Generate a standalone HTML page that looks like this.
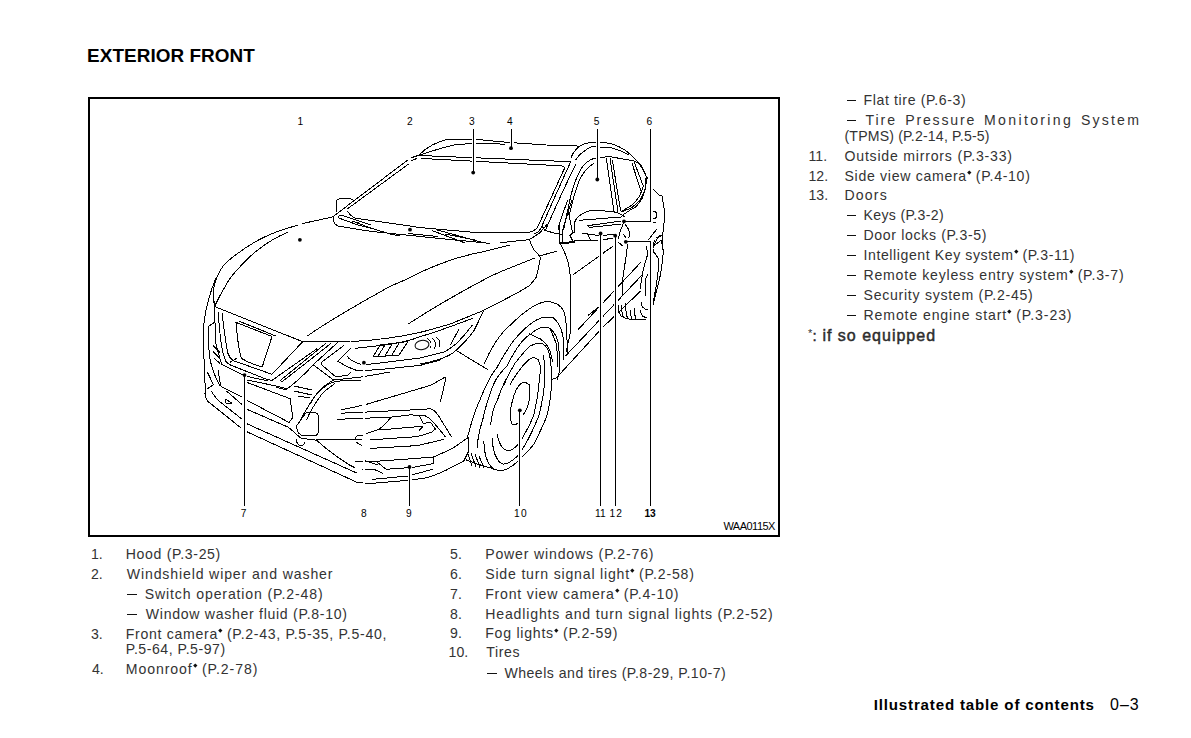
<!DOCTYPE html>
<html><head><meta charset="utf-8"><style>
html,body{margin:0;padding:0;background:#fff;}
body{width:1191px;height:738px;position:relative;overflow:hidden;font-family:"Liberation Sans",sans-serif;color:#333;}
.t{position:absolute;white-space:nowrap;line-height:1.117;}
.dash{height:1.3px;background:#111;}
.thick{-webkit-text-stroke:0.45px #222;}
.lbl{color:#000;}
.st{display:inline-block;width:2.6px;height:2.6px;background:#111;transform:rotate(45deg);vertical-align:0.5em;margin:0 0.6px 0 1.2px;}
#box{position:absolute;left:88px;top:97px;width:688px;height:436px;border:2px solid #000;}
svg{position:absolute;left:0;top:0;}
</style></head><body>
<div id="box"></div>
<svg width="1191" height="738" viewBox="0 0 1191 738" fill="none" stroke="#000" stroke-width="1" stroke-linecap="round" stroke-linejoin="round" shape-rendering="crispEdges">
<!-- ROOF -->
<path d="M418.7,155.2 C425,149 436,142 447.2,139.4 L476.4,139.4 L505.7,142.2 L546.3,145 L579.5,146.1"/>
<path d="M420,155 C432,151 442,148 448.8,146.3 L453.7,145 C470,143 490,143.5 505,144.2"/>
<path d="M419.5,155.5 L570.7,161.7"/>
<path d="M422,158.5 L561,165.8 C563.5,166.3 565,167.5 564.2,169"/>
<!-- A pillar right -->
<path d="M564.2,169 L538.2,225.9 C536.5,229.5 533.3,231.6 528,232.6 L481.3,233 L420,227.6"/>
<path d="M570.7,161.7 C566,172 552,203 541,228 C539.5,231 537.3,233 534,234"/>
<path d="M575.5,165 C569,178 556,206 545,231 L542.2,226"/>
<path d="M579.5,146.1 C575,150 572,154 571,158.3"/>
<!-- windshield bottom / cowl -->
<path d="M347.5,211.1 C350,215 353,218 357,218.5 L409.3,225.9 L420,227.6"/>
<path d="M334,217.2 C332.5,220 333.5,224 338,226 L370.3,231.3 L430,237.5 L490,243.4 M500.7,242.7 L529.4,239.6 L539.8,232.9 L546.5,225"/>
<path d="M338.6,216.2 C338.3,217.5 339,218.3 340.2,218.5 L357.5,224.8 L370.6,228.1 L390.5,234 L400,236"/>
<path d="M338.6,216.2 C339.5,215.2 341,215.2 342.4,215.6 L370.6,224.8"/>
<path d="M352.8,221.2 L370.3,227.9 M358.2,221.9 L363,227 M408,233.5 L438,236.5 M432.2,230.6 L464.4,242.7 M437.5,230 L483.2,242.7 M445,234 L475,240"/>
<path d="M545.2,230.5 L558,234.1"/>
<!-- A pillar left -->
<path d="M334.6,215.4 L407.4,160.3 M411.8,157.6 L419.2,155.1"/>
<path d="M347.8,208.6 L408.5,164.1 M411.8,160.8 L417.2,158.1"/>
<!-- cowl corner -->
<path d="M336,212 L336,203 C336,199.5 338,198.4 342,198.4 L352.8,199.1"/>
<!-- HOOD -->
<path d="M334,216.6 L302.3,223.6 M297.4,225.2 C285,229 275,232 268.2,235.3 C255,241 240,251 227.5,261.3 C221,267 217.5,274 214.5,284 C213,292 213,299 214.6,306.6"/>
<path d="M287.7,232 C275,238 268,242 260,248.3 C251,255 246,260 240.5,266.2 C234,273 229,279 226,285 C222,292 218,299 214.6,306.6"/>

<path d="M214.6,306.6 L301.2,341.1 L349.3,341.6 M352,341.5 C380,340 400,337 420,332.4 C430,330 440,327 450.5,323.9 L483.4,310.5 L516.6,293.3 C521,290.5 525,288.5 528.8,286"/>
<!-- hood creases -->
<path d="M307.2,336.1 C330,320 355,306 380,292 C390,286 400,282 405,280 C420,272 450,258 480,252.4 L509.3,245.1"/>
<path d="M408.3,323.9 C430,310 455,295 483.4,280 C490,276 498,273 504.4,270.1 L534.9,257.9"/>
<!-- fender / shut line -->
<path d="M529.4,239.6 C531,244 532,247 533.7,249.4 C536,252 538,254 540.4,257.3 C540,261 539,264 538.5,267.7 C537.5,272 537,275 536.1,277.4 C534,281 531,284 528.8,286"/>
<path d="M541,255.5 L556.8,251.2"/>
<!-- GRILLE -->
<path d="M213.4,295 L214.6,306.6 M220.1,295 L214.6,306.6"/>
<path d="M239,321.2 L275.6,335.9 M236,322.4 L272,336.5 L262.2,367 C255,365 247,362 241.5,358.4 C238,348 237,335 236,322.4"/>
<path d="M222,312.7 C224,330 226,345 228,353.5 C230,358 231,360 234.1,360.9 L268.3,373 L272,374.3 L302.4,342"/>
<path d="M218.3,312 C219,325 220,335 221.3,343.8 C222.5,352 224,357 225.6,360.9 C227,363 228.5,364.5 230.5,365 L265.9,379.1 L272,380.4 L317,348.7"/>
<path d="M230.5,362 L236.6,358.4"/>
<path d="M214,307.2 C215,320 215.5,332 215.9,343.8 C218,352 220,360 222,364.5 L245,376 L268.3,381"/>
<!-- chrome V bars -->
<path d="M326,343.2 L281.6,379.4 C280,381 281,382 283,381 L331,343.4"/>
<path d="M337.7,342.2 C330,350 320,358 312.7,365.4 C305,374 295,383 285.9,389.8 L276,387.3"/>
<path d="M343.2,345.9 L322.4,361.7 C321,363 321.5,364.5 323,366 L335.9,377 L348,375.1 L350.5,372.7"/>
<path d="M313.9,365.4 L333.4,380 L361.5,377 L390,372"/>
<path d="M333.4,380 C328,383 322,388 318.8,391 C315,396 312,400 310.2,403.2 C306,410 303,415 300.5,420"/>
<path d="M334.6,383.7 C330,387 326,390 322.4,393.4 C316,402 310,411 306.6,420"/>
<!-- far left bumper side -->
<path d="M216.1,277.6 C211,290 206,305 204,322.6 C203,335 203.5,350 204.5,370 C205,385 205.5,392 205.4,397"/>
<path d="M214,322.6 L208.3,326.4 C208.5,336 208.8,346 209.2,354.8 C211,366 215,377 219.6,385.1"/>
<path d="M213.4,346 L219.5,352 M213.4,352 L219.5,358 M214,358 L219.5,363"/>
<!-- HEADLIGHT -->
<path d="M350.5,348.3 L337.7,361.1 L345.6,366 L357.8,370.9 L380,369.5 L420,365.4 L440.7,359.9"/>
<path d="M355.4,348.3 L377.3,345.9 C395,344 410,341 420,336.7 C440,331 460,323 472.4,318.4"/>
<path d="M347.4,356.2 C349,360 354,362 360.2,364.1"/>
<path d="M483.4,311.1 C480,318 477,325 473.7,331.2 C467,340 460,347 452.9,353.2 C445,358 432,362 420,364.1"/>
<path d="M472.4,325.1 C467,332 462,338 456.6,343.4 C452,347 448,350 444.4,352 L420,358 L380,363 L366,364.6"/>
<path d="M459,328.8 C456,335 453,340 450.5,344.6"/>
<path d="M373,357 L380,345 L408,341.5 L399,355 Z"/>
<path d="M378,356 L385,345 M385,356 L392,344 M392,355 L399,343"/>
<ellipse cx="422" cy="345" rx="7" ry="4.6" transform="rotate(-10 422 345)"/>
<path d="M427.3,338.5 C431,341 432,345 430,348.3 M432,338 C436,341 437,345 434.5,348 M436.5,337.5 C440,340 441,344 439,347"/>
<path d="M456.6,350.7 L488.3,370"/>
<!-- BUMPER -->
<path d="M246.3,379.8 L275.6,385.9 L287.8,388.9"/>
<path d="M221.3,386.5 L241.5,396.8 M246.3,400 L289,422.4 L292.7,417.6 L290.2,398.7 L246.3,382.2"/>
<path d="M226.8,391.3 L241.5,404.1 M246.3,409 L288.4,427.3 C293,431 297,435 301,438.2 L316,440.2"/>
<path d="M211,390.7 C213,394 215,397 218.3,400.5 L241.5,418.8 M246.3,423.5 L356.3,472.8"/>
<path d="M205.4,390 C204.5,394 205,398 208,401.5 L240.2,427.3 M246.3,431.5 L356.3,482"/>
<path d="M218.3,370 C219,377 220,382 220.7,385.9"/>
<path d="M207.3,372 L213.4,384.6 L207.3,388.9"/>
<path d="M225.6,399.3 L231.7,403 L226,403 Z"/>
<path d="M294,386 L312,390 M294,391 L312,395 M298,396 L310,398"/>
<!-- fog light -->
<path d="M306.1,412.7 L314,412.7 C317,412.7 318.3,414 318.3,417 L318.3,431 C318.3,434 317,435.9 313,435.9 L304,435.9 C300,435.9 297,432 296.3,426.1 L306.1,412.7 Z"/>
<path d="M296.3,439.5 C296.3,443 298.5,445.6 301,445.6 C303,445.6 304.9,444 304.9,442"/>
<path d="M316.1,439.8 C325,448 335,456 350.2,465.4 L355.1,467.8"/>
<!-- lower intake -->
<path d="M310,404.4 C313,398 316,394 319.8,391 C325,386 330,383 334.4,381.8 C342,380.5 350,380 361.2,380"/>
<path d="M366.1,404.4 L430,385.5 C435,383 440,380 444.1,377.7 L446,377.7 L440.5,401.5"/>
<path d="M341.1,409.9 L361.2,405.6"/>
<path d="M341.1,413.2 L410,410 L430.7,408.8 C434,410 436,412 438,414.9 L451.5,436.8"/>
<path d="M337.4,419.3 L390.5,417.2 L410,414.9 L424.6,415.5 C428,417 431,419 434.4,423.4 L445.4,436.8"/>
<path d="M390.5,417.8 C387,422 384,426 379.5,428.8 C375,431 370,432.5 366.1,433.7"/>
<path d="M379.5,430 L423.1,426.2 L419.3,430.4"/>
<path d="M419.1,414.9 L423.4,423.4 L430.7,422.4 L435.4,429 L431.6,432.3 L417.4,436.6 L370,439.9"/>
<path d="M355.1,438.5 C356,436.5 357.5,435.5 358.8,435.5 L362.4,435.5"/>
<path d="M316.1,439.8 L362,439.8"/>
<path d="M370,448.4 L417.4,445.6 L444,439.4 M356.3,442.2 L361.2,445.2"/>
<path d="M316.1,439.8 C325,448 335,456 350.2,465.4 L355.1,467.8"/>
<!-- bumper corner -->
<path d="M355,461 L370,461.7 L403.2,459.4 L433.5,457 C440,454 445,452 450.6,449.4 C458,445 463,441 468.2,437.5 L468.6,451.3 L463.9,460.8"/>
<path d="M463.9,460.8 C458,464 452,467 445.9,470.3 C440,473 433,476 426.9,477.8 L409.8,480.2 L370,483.5 L356,482"/>
<path d="M433.5,457 L433.5,463.6 L412.7,467.4 L386.1,469.3 L376.6,461.7"/>
<path d="M372.8,479.3 L407.9,476 L432.6,469.3"/>
<path d="M362,469.3 L374,469.3 L382.3,473.1"/>
<path d="M363,460 L378,465"/>
<!-- WHEEL ARCH -->
<path d="M484.4,363.3 C490,350 500,333 511.2,324.3 C520,315 535,303 545.4,301.7 C552,301 560,304 563.7,310.9 C566,316 567,330 567.3,352.3"/>
<path d="M467.6,436.9 C472,420 476,408 479.8,400.3 C484,390 490,375 496.6,368.2 C502,358 506,352 511.2,343.8 C518,335 522,331 527.1,326.7 C535,320 540,317.5 545.4,317 C550,317 552,317 553.9,318.2 C558,322 560,326 561.2,329.1 C563,335 563.7,340 563.7,343.8 L563.7,359.6"/>
<path d="M477.1,447.7 C478,435 480,428 482.5,420.6 C486,405 490,392 494.7,382 C498,375 502,371 506.3,367 C510,360 514,352 518.5,346.2 C522,341 526,337 530.7,334 C535,330 539,328 542.9,327.3 C546,327 548,327.5 550.2,328.5 C553,331 555,334 556.3,336.5 C558,341 558.5,344 558.8,347.4 L560,368.2 L557.6,379.1"/>
<path d="M490.6,424.7 C492,412 494.5,405 497.4,400.3 C500,392 502,388 505.5,380"/>
<!-- WHEEL -->
<path d="M483.9,441 C484,455 488,466 494.7,469.4 C498,470.5 501,470.5 504.2,470.1 C510,468 514,465 517.7,461.3 C524,455 530,450 534,443.7 C540,432 545,422 547.5,413.9 C550,403 551.5,392 551.6,380 C551.5,370 551,364 550.2,358.4 C549,352 548,349 546.6,347.4 C544,344 542,343 539.3,343.2 C535,343.5 532,345 529.5,346.2 C524,352 519,358 514.9,363.3 C510,372 506,380 503.9,385"/>
<path d="M497.4,434.2 C498,442 502,449 506.9,450.4 C511,451 514,449 517.7,445 C520,442 522,439.5 523.1,436.9 C528,428 532,421 534,413.9 C537,402 538.5,392 539.4,380 C540,374 540.5,370 540.5,368.2 C539.5,362 538.5,360 538,359.6 C536,357.5 534,357.5 532,357.8 C528,360 524,364 521,368.2 C516,375 512,380 510,385"/>
<path d="M492,438.2 C493,452 497,462 502.8,464 C507,465 512,461 517.7,455.9 C521,451.5 523.5,447.5 525.8,443.7 C531,434 536,424 539.4,413.9 C542,403 544,392 544.8,380 C545,370 544.5,360 543,355"/>
<path d="M512.3,424.7 C514,425.5 516,424.5 517.7,423.3 M523.1,415.2 C527,409 529,404 529.2,400.3 C530,394 530,389 529.9,386.8 C529.5,383.5 526,382.3 523.1,382.7 C518,384 514,392 511,407.1 C510,414 510.5,421 512.3,424.7"/>
<path d="M529.5,334 C534,336 537,337.5 540.5,338.9 C543,341 545.5,343.5 547.8,346.2 C550,350 551.5,355 552.5,362"/>
<path d="M550.2,329.1 C553,335 555,340 556.3,343.8 C557.5,352 557.5,360 557,368"/>
<path d="M467.6,453 L472,466 M471,453 L476,467 M475,454 L480,467.5 M479,456 L483.5,467"/>
<path d="M466.3,459.9 L477.1,464 L490.6,468 L494.7,469.4"/>
<!-- DOOR / SIDE -->
<path d="M558.7,225 L559.9,243.3 C562,247 564,251 565.4,254.3 C567,258 568.5,262 569,266.5 L570.9,279.9 L570.9,330 L566,352.3"/>
<path d="M572.7,275 L612.7,246.4"/>
<path d="M588.5,315 L597.7,307.9"/>
<path d="M556.3,378 L602.6,327.5 L640.5,291.2 M566,355.5 L641.7,275.4 M578,329.7 L640.5,262.6"/>
<path d="M552.7,379.1 L556.3,378"/>
<!-- door windows -->
<path d="M571,158.3 C572,155 573.5,152 575.9,149.8 C579,146 582,144.5 584.4,143.7 C590,142.5 593,142.2 596.6,142.2 C602,142.3 607,142.8 611.2,143.7 C617,145.5 621,147.5 624.6,149.8 C629,153 632,156 635.6,159.5 C639,163.5 642,167.5 644.1,171.7 L647.2,179"/>
<path d="M575.9,159.5 C578,156 581,153 584.4,151 C587,148.5 589,147.5 591.7,146.7 L608.8,147.3 C613,148 617,149.5 621,151 L628.3,154.6"/>
<path d="M563.7,230 C566,218 568.5,206 571,194.9 C574,184 577,176 580.7,169.3 C585,163 589,160 594.1,158.3 L608.8,156.5 L633.2,160.7 L640.5,164.4 C643,168 645,172 646.6,177.8 C646.5,182 646,185 645.4,188.8 C643.5,193 641.5,197 639.3,201 C636,204 633.5,206.5 630.7,208.3 L621,212"/>
<path d="M569.8,213.2 C572,202 575,192 578.3,182.7 C582,174 587,167 594.1,163.2"/>
<path d="M606.3,158.3 L614,212 M610,158.3 L618,212 M612.4,160.7 L620.7,211"/>
<path d="M632,163.2 L641.2,191.7 M634.4,162.6 L643.4,186.3"/>
<path d="M621.4,211.5 C627,208 631,206 632.5,204.7 C636,201 638.5,198 640.1,194.9 L643.4,186.3"/>
<path d="M623.8,214.4 C628,211 632,209 635.8,206.9 C638.5,204 640.5,201 642.3,198.2 C644,194 645,190 645.5,186.3 L645.5,178.7 L647.7,177.6"/>
<!-- mirror -->
<path d="M574.6,232.5 L574.6,222.4 C575.5,220 576.5,218.5 577.4,217.6 C580,215 583,213 585.5,212.2 C588,211 590,210.5 592.9,210.2 L612.6,211.5 C615,212 617,212.8 619.4,213.6 L624.1,216.3"/>
<path d="M579.4,220.3 L622.1,216.9"/>
<path d="M587.5,225.7 L621.4,221 M589.6,227.4 L621.4,224 M587.5,225.7 L589.6,227.4"/>
<path d="M582.1,233.2 L587.5,233.9 L590.2,239.3 M587.5,233.9 L598.4,235.6 M603.8,235.2 L613.3,234.6 M603.8,239.3 L612.6,238.6"/>
<path d="M574.6,240.7 L597.7,240.7"/>
<path d="M625.5,225 C627,226.5 628,228 628.8,229.8 C629.5,232 629.6,234.5 629.5,236.6 L628.2,238"/>
<path d="M624.1,221.7 L619.4,233.2 L618.7,238.6 M622.7,234 C624,235 625,236 626,238"/>
<path d="M618,242 L622.7,246"/>
<!-- A pillar base -->
<path d="M567.9,200 C564,210 561,218 559.1,225.7 L559.1,242"/>
<path d="M571.9,200 C568,212 565,222 562.5,230.5 L562.5,242"/>
<path d="M568.2,210.2 L571.9,229.8 L573.3,232.5 L569.9,235.2 L572.6,240.7"/>
<path d="M560.4,243.4 L574.6,242" stroke-width="2"/>
<path d="M555,233.2 L561.8,234.6"/>
<!-- rear -->
<path d="M652,187.9 L659.1,194.9 L662.3,196 L662.9,201.4 L664,208 L664.5,218.8 L662.9,232.9 L662.9,250"/>
<path d="M652.5,211.8 C655,211 657.3,212.5 657,215.2 C656.6,217.8 654.5,219.2 652.5,219 M653,222.6 L656,222.6"/>
<path d="M648.8,239.4 L656.4,229.6 M652,250 C654,244 657,238 660.7,235"/>
<path d="M627.7,244 C626,258 624,270 622.5,280.1 L622.5,295.6"/>
<path d="M602.6,253 L612.9,246.6"/>
<path d="M618.5,306 C618.3,310 619,313 620.5,315.5 C624,318.3 629,319.4 634.4,319.3 L645.4,319.3"/>
<path d="M622,305 C621.5,310 622,314 623.5,317 M626,303 C625.5,309 626,314 627.5,318.3 M630,300 C629.5,307 630,313 631.5,319 M634,297.5 C633.5,305 634,312 635.5,319"/>
<path d="M641.2,302 C641.5,304 642,306 642.5,307.2 C644,308.5 646,309.5 647.7,309.7"/>
<path d="M640,309.7 C640.5,312 641.5,314.5 642.5,316.2 C644,317 645.5,317.5 647,317.5"/>
<path d="M640,289.1 C641,283 641.8,278 642.5,273.7 C644,266 646,260 647.7,254.3 L646.4,246.6"/>
<path d="M645.1,295.6 L645.1,280.1 L647.5,275"/>
<path d="M652.8,247.9 C654.5,245.5 656,243.5 658,242.7 L661.2,240 L663.7,252.2 L663.1,254.3 C662.5,261 661.8,267 660.6,273.7 C659.5,280 658,285 656.7,290.4 C655.5,296 654,301 652.8,305.9"/>
<path d="M655,240 C653.5,243 652.7,245 652.7,247.3 C653,249 653.3,250.5 653.9,252.2 C656,254.5 657.5,257 658.8,259.5 C658.6,265 658.2,271 657.6,276.6 C656.2,286 654.5,296 652.7,304.6"/>
<path d="M656.7,237.6 L663.1,235"/>
<!-- LEADERS -->
<path d="M363.9,366 V486" stroke="#fff" stroke-width="2.6"/>
<g stroke="#fff" stroke-width="4" stroke-linecap="butt">
<path d="M244.5,375.1 V505.5"/>
<path d="M409.5,467 V505.5"/>
<path d="M519.5,410.3 V505.5"/>
<path d="M600.5,233.5 V505.5"/>
<path d="M615.5,235.7 V505.5"/>
<path d="M625.8,241.5 H650.5 V505.5"/>
<path d="M650.5,129 V221.5 H624"/>
<path d="M597.5,129 V179.5"/>
<path d="M511.5,129 V148.2"/>
<path d="M473.5,129 V172.6"/>
</g>
<g stroke-width="1">
<path d="M244.5,375.1 V505.5"/>
<path d="M409.5,467 V505.5"/>
<path d="M519.5,410.3 V505.5"/>
<path d="M600.5,233.5 V505.5"/>
<path d="M615.5,235.7 V505.5"/>
<path d="M625.8,241.5 H650.5 V505.5"/>
<path d="M650.5,129 V221.5 H624"/>
<path d="M597.5,129 V179.5"/>
<path d="M511.5,129 V148.2"/>
<path d="M473.5,129 V172.6"/>
</g>
<g fill="#000" stroke="none" shape-rendering="geometricPrecision">
<circle cx="299.9" cy="239.8" r="1.9"/>
<circle cx="410" cy="229.7" r="1.9"/>
<circle cx="473.2" cy="172.6" r="1.9"/>
<circle cx="511" cy="148.2" r="1.9"/>
<circle cx="597.3" cy="179.5" r="1.9"/>
<circle cx="624" cy="221.3" r="1.9"/>
<circle cx="600.6" cy="233.5" r="1.9"/>
<circle cx="615.2" cy="235.7" r="1.9"/>
<circle cx="625.8" cy="241.8" r="1.9"/>
<circle cx="244.5" cy="375.1" r="1.9"/>
<circle cx="363.9" cy="362.7" r="1.9"/>
<circle cx="409.5" cy="467" r="1.9"/>
<circle cx="519.8" cy="410.3" r="1.9"/>
</g>
</svg>

<div class="t" id="t0" style="left:87.10px;top:44.90px;font-size:18.9px;font-weight:700;color:#000;letter-spacing:0.062px;">EXTERIOR FRONT</div>
<div class="t" id="t1" style="left:91.00px;top:547.14px;font-size:14.1px;">1.</div>
<div class="t" id="t2" style="left:125.80px;top:547.14px;font-size:14.1px;letter-spacing:0.650px;">Hood (P.3-25)</div>
<div class="t" id="t3" style="left:91.00px;top:567.14px;font-size:14.1px;">2.</div>
<div class="t" id="t4" style="left:126.80px;top:567.14px;font-size:14.1px;letter-spacing:0.861px;">Windshield wiper and washer</div>
<div class="t dash" id="t5" style="left:126.70px;top:594.10px;width:10.10px"></div>
<div class="t" id="t6" style="left:144.80px;top:587.14px;font-size:14.1px;letter-spacing:0.859px;">Switch operation (P.2-48)</div>
<div class="t dash" id="t7" style="left:126.70px;top:614.10px;width:10.10px"></div>
<div class="t" id="t8" style="left:145.80px;top:607.14px;font-size:14.1px;letter-spacing:0.703px;">Window washer fluid (P.8-10)</div>
<div class="t" id="t9" style="left:91.00px;top:626.64px;font-size:14.1px;">3.</div>
<div class="t" id="t10" style="left:125.80px;top:626.64px;font-size:14.1px;letter-spacing:0.697px;">Front camera<span class="st"></span> (P.2-43, P.5-35, P.5-40,</div>
<div class="t" id="t11" style="left:125.80px;top:641.64px;font-size:14.1px;letter-spacing:0.529px;">P.5-64, P.5-97)</div>
<div class="t" id="t12" style="left:92.00px;top:662.14px;font-size:14.1px;">4.</div>
<div class="t" id="t13" style="left:125.80px;top:662.14px;font-size:14.1px;letter-spacing:0.918px;">Moonroof<span class="st"></span> (P.2-78)</div>
<div class="t" id="t14" style="left:450.10px;top:546.94px;font-size:14.1px;">5.</div>
<div class="t" id="t15" style="left:485.20px;top:546.94px;font-size:14.1px;letter-spacing:0.828px;">Power windows (P.2-76)</div>
<div class="t" id="t16" style="left:450.10px;top:566.84px;font-size:14.1px;">6.</div>
<div class="t" id="t17" style="left:485.20px;top:566.84px;font-size:14.1px;letter-spacing:0.813px;">Side turn signal light<span class="st"></span> (P.2-58)</div>
<div class="t" id="t18" style="left:450.10px;top:586.74px;font-size:14.1px;">7.</div>
<div class="t" id="t19" style="left:485.20px;top:586.74px;font-size:14.1px;letter-spacing:0.800px;">Front view camera<span class="st"></span> (P.4-10)</div>
<div class="t" id="t20" style="left:450.10px;top:606.54px;font-size:14.1px;">8.</div>
<div class="t" id="t21" style="left:485.20px;top:606.54px;font-size:14.1px;letter-spacing:0.844px;">Headlights and turn signal lights (P.2-52)</div>
<div class="t" id="t22" style="left:450.10px;top:626.44px;font-size:14.1px;">9.</div>
<div class="t" id="t23" style="left:485.20px;top:626.44px;font-size:14.1px;letter-spacing:0.758px;">Fog lights<span class="st"></span> (P.2-59)</div>
<div class="t" id="t24" style="left:448.60px;top:645.44px;font-size:14.1px;">10.</div>
<div class="t" id="t25" style="left:486.20px;top:645.44px;font-size:14.1px;letter-spacing:0.650px;">Tires</div>
<div class="t dash" id="t26" style="left:486.80px;top:672.50px;width:10.00px"></div>
<div class="t" id="t27" style="left:504.40px;top:665.54px;font-size:14.1px;letter-spacing:0.494px;">Wheels and tires (P.8-29, P.10-7)</div>
<div class="t dash" id="t28" style="left:846.50px;top:99.80px;width:9.50px"></div>
<div class="t" id="t29" style="left:863.50px;top:92.84px;font-size:14.1px;letter-spacing:0.625px;">Flat tire (P.6-3)</div>
<div class="t dash" id="t30" style="left:846.50px;top:119.70px;width:9.50px"></div>
<div class="t" id="t31" style="left:865.40px;top:112.74px;font-size:14.1px;letter-spacing:2.000px;">Tire</div>
<div class="t" id="t32" style="left:905.20px;top:112.74px;font-size:14.1px;letter-spacing:1.828px;">Pressure</div>
<div class="t" id="t33" style="left:984.00px;top:112.74px;font-size:14.1px;letter-spacing:2.333px;">Monitoring</div>
<div class="t" id="t34" style="left:1080.90px;top:112.74px;font-size:14.1px;letter-spacing:2.200px;">System</div>
<div class="t" id="t35" style="left:844.50px;top:129.24px;font-size:14.1px;letter-spacing:0.181px;">(TPMS) (P.2-14, P.5-5)</div>
<div class="t" id="t36" style="left:808.50px;top:149.14px;font-size:14.1px;">11.</div>
<div class="t" id="t37" style="left:844.50px;top:149.14px;font-size:14.1px;letter-spacing:0.791px;">Outside mirrors (P.3-33)</div>
<div class="t" id="t38" style="left:808.50px;top:169.14px;font-size:14.1px;">12.</div>
<div class="t" id="t39" style="left:844.50px;top:169.14px;font-size:14.1px;letter-spacing:0.696px;">Side view camera<span class="st"></span> (P.4-10)</div>
<div class="t" id="t40" style="left:808.50px;top:188.44px;font-size:14.1px;">13.</div>
<div class="t" id="t41" style="left:844.50px;top:188.44px;font-size:14.1px;letter-spacing:1.150px;">Doors</div>
<div class="t dash" id="t42" style="left:846.50px;top:215.00px;width:9.50px"></div>
<div class="t" id="t43" style="left:863.50px;top:208.04px;font-size:14.1px;letter-spacing:0.327px;">Keys (P.3-2)</div>
<div class="t dash" id="t44" style="left:846.50px;top:234.90px;width:9.50px"></div>
<div class="t" id="t45" style="left:863.50px;top:227.94px;font-size:14.1px;letter-spacing:0.659px;">Door locks (P.3-5)</div>
<div class="t dash" id="t46" style="left:846.50px;top:254.80px;width:9.50px"></div>
<div class="t" id="t47" style="left:863.50px;top:247.84px;font-size:14.1px;letter-spacing:0.587px;">Intelligent Key system<span class="st"></span> (P.3-11)</div>
<div class="t dash" id="t48" style="left:846.50px;top:274.80px;width:9.50px"></div>
<div class="t" id="t49" style="left:863.50px;top:267.84px;font-size:14.1px;letter-spacing:0.778px;">Remote keyless entry system<span class="st"></span> (P.3-7)</div>
<div class="t dash" id="t50" style="left:846.50px;top:294.70px;width:9.50px"></div>
<div class="t" id="t51" style="left:863.50px;top:287.74px;font-size:14.1px;letter-spacing:0.730px;">Security system (P.2-45)</div>
<div class="t dash" id="t52" style="left:846.50px;top:314.60px;width:9.50px"></div>
<div class="t" id="t53" style="left:863.50px;top:307.64px;font-size:14.1px;letter-spacing:0.879px;">Remote engine start<span class="st"></span> (P.3-23)</div>
<div class="t" id="t54" style="left:808.00px;top:326.55px;font-size:11px;">*</div>
<div class="t thick" id="t55" style="left:812.50px;top:327.73px;font-size:15px;">:</div>
<div class="t thick" id="t56" style="left:822.40px;top:326.82px;font-size:16px;letter-spacing:1.000px;">if so equipped</div>
<div class="t" id="t57" style="left:873.70px;top:697.03px;font-size:15.1px;font-weight:700;color:#000;letter-spacing:0.829px;">Illustrated table of contents</div>
<div class="t lbl" id="t58" style="left:1110.00px;top:696.02px;font-size:16px;letter-spacing:1.000px;">0–3</div>
<div class="t lbl" id="t59" style="left:297.50px;top:115.77px;font-size:10.2px;">1</div>
<div class="t lbl" id="t60" style="left:407.00px;top:115.77px;font-size:10.2px;">2</div>
<div class="t lbl" id="t61" style="left:469.00px;top:115.77px;font-size:10.2px;">3</div>
<div class="t lbl" id="t62" style="left:507.10px;top:115.77px;font-size:10.2px;">4</div>
<div class="t lbl" id="t63" style="left:593.70px;top:116.27px;font-size:10.2px;">5</div>
<div class="t lbl" id="t64" style="left:646.60px;top:116.27px;font-size:10.2px;">6</div>
<div class="t lbl" id="t65" style="left:240.70px;top:508.37px;font-size:10.2px;">7</div>
<div class="t lbl" id="t66" style="left:361.00px;top:508.37px;font-size:10.2px;">8</div>
<div class="t lbl" id="t67" style="left:406.00px;top:508.37px;font-size:10.2px;">9</div>
<div class="t lbl" id="t68" style="left:513.90px;top:508.37px;font-size:10.2px;letter-spacing:1.400px;">10</div>
<div class="t lbl" id="t69" style="left:595.00px;top:508.37px;font-size:10.2px;">11</div>
<div class="t lbl" id="t70" style="left:609.50px;top:508.37px;font-size:10.2px;letter-spacing:1.000px;">12</div>
<div class="t lbl" id="t71" style="left:644.40px;top:508.37px;font-size:10.2px;font-weight:700;color:#000;">13</div>
<div class="t lbl" id="t72" style="left:723.40px;top:519.75px;font-size:11px;letter-spacing:-0.514px;">WAA0115X</div>
</body></html>
